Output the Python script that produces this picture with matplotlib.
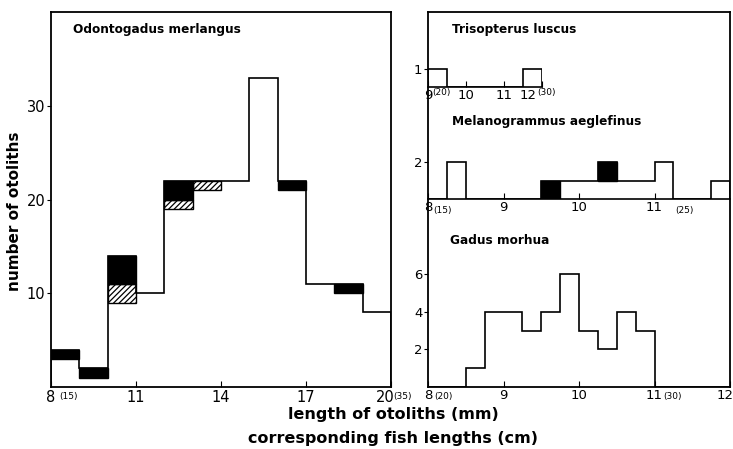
import numpy as np
import matplotlib
matplotlib.use("Agg")
import matplotlib.pyplot as plt
from matplotlib.transforms import ScaledTranslation

# Odontogadus merlangus, 1 mm classes from 8 to 20 mm
merl_edges = np.arange(8, 21, 1)
merl_white = np.array([3, 1, 9, 10, 19, 21, 22, 33, 21, 11, 10, 8])
merl_hatch = np.array([0, 0, 2, 0, 1, 1, 0, 0, 0, 0, 0, 0])
merl_black = np.array([1, 1, 3, 0, 2, 0, 0, 0, 1, 0, 1, 0])

# Trisopterus luscus, 0.5 mm classes from 9 to 12 mm
tris_edges = np.arange(9, 12.01, 0.5)
tris_white = np.array([1, 0, 0, 0, 0, 1])

# Melanogrammus aeglefinus, 0.25 mm classes from 8 to 12 mm
mel_edges = np.arange(8, 12.01, 0.25)
mel_white = np.array([0, 2, 0, 0, 0, 0, 0, 1, 1, 1, 1, 1, 2, 0, 0, 1])
mel_black = np.array([0, 0, 0, 0, 0, 0, 1, 0, 0, 1, 0, 0, 0, 0, 0, 0])

# Gadus morhua, 0.25 mm classes from 8 to 12 mm
gad_edges = np.arange(8, 12.01, 0.25)
gad_white = np.array([0, 0, 1, 4, 4, 3, 4, 6, 3, 2, 4, 3, 0, 0, 0, 0])

W, H = 733, 449
plt.rcParams['font.family'] = ['DejaVu Sans']
plt.rcParams['hatch.linewidth'] = 0.9

fig = plt.figure(figsize=(W / 100, H / 100), dpi=100)


def rect(x0, y_top, x1, y_bot):
    return [x0 / W, 1 - y_bot / H, (x1 - x0) / W, (y_bot - y_top) / H]


def ftext(x, y, s, **kw):
    fig.text(x / W, 1 - y / H, s, **kw)


def draw_hist(ax, edges, white, hatch=None, black=None):
    lefts = edges[:-1]
    width = edges[1] - edges[0]
    total = white.copy()
    if hatch is not None:
        m = hatch > 0
        ax.bar(lefts[m], hatch[m], width=width, bottom=total[m], align='edge',
               color='white', edgecolor='black', hatch='//////', linewidth=1)
        total = total + hatch
    if black is not None:
        m = black > 0
        ax.bar(lefts[m], black[m], width=width, bottom=total[m], align='edge',
               color='black', edgecolor='black', linewidth=1)
        total = total + black
    ax.stairs(total, edges, color='black', linewidth=1.2, baseline=0)


def shift_label(ax, idx, dx_px):
    lab = ax.get_xticklabels()[idx]
    lab.set_transform(lab.get_transform() + ScaledTranslation(dx_px / 100, 0, fig.dpi_scale_trans))


# left panel
ax = fig.add_axes(rect(51, 12, 391, 387))
draw_hist(ax, merl_edges, merl_white, merl_hatch, merl_black)
ax.set_xlim(8, 20)
ax.set_ylim(0, 40)
ax.set_xticks([8, 11, 14, 17, 20])
ax.set_xticklabels(['8', '11', '14', '17', '20'])
ax.set_yticks([10, 20, 30])
ax.tick_params(axis='x', direction='in', length=4, labelsize=10.5, pad=2)
ax.tick_params(axis='y', direction='out', length=3, labelsize=10.5, pad=1)
for s in ax.spines.values():
    s.set_linewidth(1.3)
shift_label(ax, 4, -6)
ftext(73, 29, 'Odontogadus merlangus', fontsize=8.7, fontweight='bold', va='center')

# right side frame
frame = fig.add_axes(rect(428, 12, 730, 387))
frame.set_xticks([])
frame.set_yticks([])
frame.patch.set_alpha(0)
for s in frame.spines.values():
    s.set_linewidth(1.3)


def inner(r, xlim, ylim, xt, xl, yt):
    a = fig.add_axes(r)
    a.patch.set_alpha(0)
    for k in ['top', 'right', 'left']:
        a.spines[k].set_visible(False)
    a.spines['bottom'].set_linewidth(1.2)
    a.set_xlim(*xlim)
    a.set_ylim(*ylim)
    a.set_xticks(xt)
    a.set_xticklabels(xl)
    a.set_yticks(yt)
    a.tick_params(axis='x', direction='in', length=4, labelsize=9.5, pad=1.5)
    a.tick_params(axis='y', direction='out', length=3, labelsize=9.5, pad=1)
    return a


ax_t = inner(rect(428, 50.7, 541.7, 87.3), (9, 12), (0, 2), [9, 10, 11, 12],
             ['9', '10', '11', '12'], [1])
draw_hist(ax_t, tris_edges, tris_white)
shift_label(ax_t, 3, -14)
ftext(452, 29, 'Trisopterus luscus', fontsize=8.7, fontweight='bold', va='center')

ax_m = inner(rect(428, 142.9, 730, 199.3), (8, 12), (0, 3), [8, 9, 10, 11],
             ['8', '9', '10', '11'], [2])
draw_hist(ax_m, mel_edges, mel_white, black=mel_black)
ftext(452, 121, 'Melanogrammus aeglefinus', fontsize=8.7, fontweight='bold', va='center')

ax_g = inner(rect(428, 255.4, 730, 387), (8, 12), (0, 7), [8, 9, 10, 11, 12],
             ['8', '9', '10', '11', '12'], [2, 4, 6])
ax_g.spines['bottom'].set_visible(False)
draw_hist(ax_g, gad_edges, gad_white)
shift_label(ax_g, 4, -5)
ftext(450, 240, 'Gadus morhua', fontsize=8.7, fontweight='bold', va='center')

# fish length marks in brackets
small = dict(fontsize=6.5, ha='center', va='center')
ftext(68, 397, '(15)', **small)
ftext(403, 397, '(35)', **small)
ftext(443, 397, '(20)', **small)
ftext(672, 397, '(30)', **small)
ftext(442, 210, '(15)', **small)
ftext(684, 210, '(25)', **small)
ftext(441, 93, '(20)', **small)
ftext(546, 93, '(30)', **small)

# axis titles
ftext(15, 211, 'number of otoliths', fontsize=11, fontweight='bold',
      rotation=90, ha='center', va='center')
ftext(393, 414, 'length of otoliths (mm)', fontsize=11.5, fontweight='bold',
      ha='center', va='center')
ftext(393, 439, 'corresponding fish lengths (cm)', fontsize=11.5, fontweight='bold',
      ha='center', va='center')

fig.savefig('out.png', dpi=100)
